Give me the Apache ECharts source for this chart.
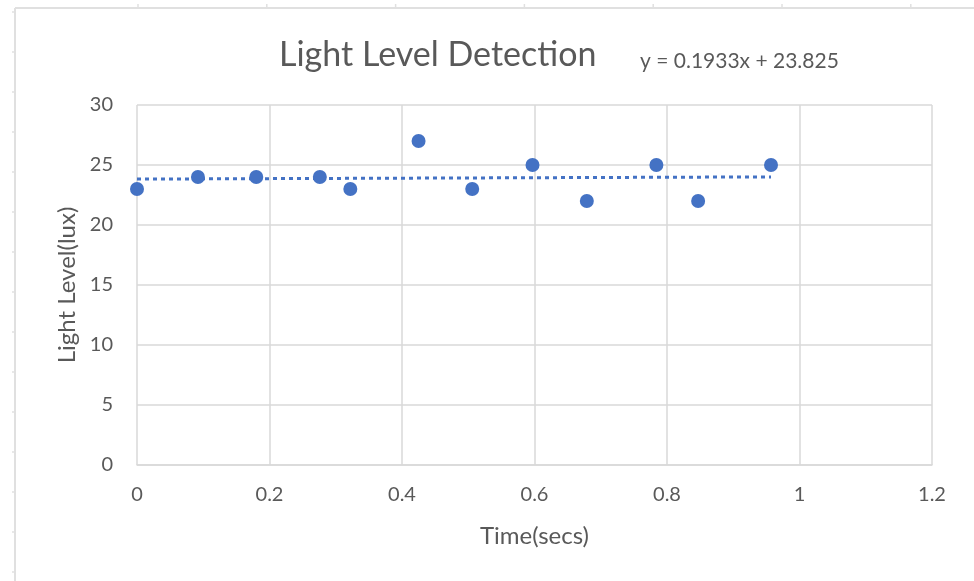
<!DOCTYPE html>
<html>
<head>
<meta charset="utf-8">
<script src="https://cdn.jsdelivr.net/npm/echarts@6/dist/echarts.min.js"></script>
<style>
html,body{margin:0;padding:0;background:#fff;}
#chart{width:974px;height:581px;}
</style>
</head>
<body>
<div id="chart"></div>
<script>
// ---- data ----
const timeSecs = [0, 0.092, 0.18, 0.276, 0.322, 0.425, 0.506, 0.597, 0.679, 0.784, 0.847, 0.957];
const lightLux = [23, 24, 24, 24, 23, 27, 23, 25, 22, 25, 22, 25];
const trendSlope = 0.1933;
const trendIntercept = 23.825;
const xTicks = [0, 0.2, 0.4, 0.6, 0.8, 1, 1.2];
const yTicks = [0, 5, 10, 15, 20, 25, 30];
const titleText = 'Light Level Detection';
const equationText = 'y = 0.1933x + 23.825';
const xName = 'Time(secs)';
const yName = 'Light Level(lux)';

const points = timeSecs.map((t, i) => [t, lightLux[i]]);
const xMin = Math.min(...timeSecs), xMax = Math.max(...timeSecs);
const trend = [[xMin, trendIntercept + trendSlope * xMin], [xMax, trendIntercept + trendSlope * xMax]];

const FONT = 'Lato';
const TXT = '#595959';
const GRID = '#d9d9d9';
const BLUE = '#4472c4';

// decorative spreadsheet frame
const frame = [];
frame.push({type:'line', shape:{x1:15,y1:8,x2:974,y2:8}, style:{stroke:'#e0e0e0', lineWidth:2}, silent:true});
frame.push({type:'line', shape:{x1:15,y1:8,x2:15,y2:581}, style:{stroke:'#e0e0e0', lineWidth:2}, silent:true});
for (let k = 0; k < 8; k++) {
  const x = 138 + 128.8 * k;
  frame.push({type:'line', shape:{x1:x,y1:4,x2:x,y2:8}, style:{stroke:'#e0e0e0', lineWidth:1.5}, silent:true});
}
for (let k = 0; k < 15; k++) {
  const y = 12 + 40 * k;
  frame.push({type:'line', shape:{x1:12,y1:y,x2:15,y2:y}, style:{stroke:'#e0e0e0', lineWidth:1.5}, silent:true});
}
frame.push({type:'text', left:640, top:51, style:{text:equationText, fill:TXT, font:'21px ' + FONT}});

const chart = echarts.init(document.getElementById('chart'), null, {renderer:'canvas'});
chart.setOption({
  backgroundColor:'#fff',
  animation:false,
  title:{text:titleText, left:274, top:33, textStyle:{color:TXT, fontFamily:FONT, fontSize:34, fontWeight:'normal'}},
  grid:{left:137, top:105, width:795, height:360, containLabel:false},
  xAxis:{
    type:'value', min:0, max:1.2, interval:0.2,
    name:xName, nameLocation:'middle', nameGap:59,
    nameTextStyle:{color:TXT, fontFamily:FONT, fontSize:24},
    axisLine:{show:true, lineStyle:{color:GRID, width:1.5}},
    axisTick:{show:false},
    splitLine:{show:true, lineStyle:{color:GRID, width:1.5}},
    axisLabel:{color:TXT, fontFamily:FONT, fontSize:20, margin:20,
      formatter:v => { const m = xTicks.find(t => Math.abs(t - v) < 1e-9); return m === undefined ? '' : String(m); }}
  },
  yAxis:{
    type:'value', min:0, max:30, interval:5,
    name:yName, nameLocation:'middle', nameGap:57, nameRotate:90,
    nameTextStyle:{color:TXT, fontFamily:FONT, fontSize:24},
    axisLine:{show:false},
    axisTick:{show:false},
    splitLine:{show:true, lineStyle:{color:GRID, width:1.5}},
    axisLabel:{color:TXT, fontFamily:FONT, fontSize:20, margin:24,
      formatter:v => { const m = yTicks.find(t => Math.abs(t - v) < 1e-9); return m === undefined ? '' : String(m); }}
  },
  series:[
    {type:'line', data:trend, symbol:'none', silent:true, z:2,
      lineStyle:{color:BLUE, width:3, type:[4,4]}},
    {type:'scatter', data:points, symbol:'circle', symbolSize:14, z:3,
      itemStyle:{color:BLUE, opacity:1}}
  ],
  graphic:frame
});
</script>
</body>
</html>
